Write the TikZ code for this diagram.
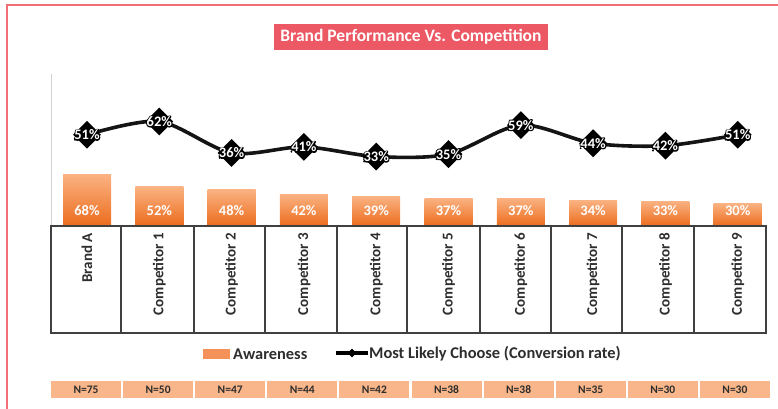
\documentclass[tikz,border=0pt]{standalone}
\usepackage{fontspec}
\setmainfont{Carlito}
\usetikzlibrary{shapes.geometric}
\definecolor{framered}{RGB}{240,112,118}
\definecolor{titlebg}{RGB}{236,88,100}
\definecolor{bartop}{RGB}{250,178,130}
\definecolor{barbot}{RGB}{236,108,28}
\definecolor{nbox}{RGB}{248,182,138}
\definecolor{legbar}{RGB}{244,146,90}
\definecolor{gridc}{RGB}{64,64,64}
\definecolor{txt}{RGB}{45,45,45}
\tikzset{
  catlbl/.style={rotate=90, anchor=east, inner sep=0, text=txt, font=\bfseries\fontsize{15}{16}\selectfont},
  barlbl/.style={inner sep=0, text=white, font=\bfseries\fontsize{14.5}{16}\selectfont},
  linelbl/.style={inner sep=0, font=\bfseries\fontsize{14.5}{16}\selectfont},
  nlbl/.style={fill=nbox, minimum width=70, minimum height=17, inner sep=0, text=txt, font=\bfseries\fontsize{11.5}{13}\selectfont},
  leglbl/.style={anchor=west, inner sep=0, text=txt, font=\bfseries\fontsize{16.4}{18}\selectfont},
  marker/.style={diamond, fill=black, minimum size=28, inner sep=0},
}
\newcommand{\strokeonly}[1]{\special{pdf:literal direct 1 Tr 2 w 1 J 1 j}#1\special{pdf:literal direct 0 Tr}}
\begin{document}
\begin{tikzpicture}[x=1pt,y=-1pt]
\useasboundingbox (0,0) rectangle (778,409);
% frame
\draw[framered, line width=1.3] (7,430) -- (7,5) -- (800,5);
% title
\node[fill=titlebg, text=white, font=\bfseries\fontsize{17.5}{20}\selectfont, minimum width=274, minimum height=26, inner sep=0] (title) at (411,37) {Brand Performance Vs. Competition};
% axis line
\draw[black!18, line width=1] (51,74) -- (51,226);
% bars
\foreach \v [count=\i from 0] in {68,52,48,42,39,37,37,34,33,30} {
  \shade[top color=bartop, bottom color=barbot] ({87+72.3*\i-24},226) rectangle ({87+72.3*\i+24},{226-0.755*\v});
  \node[barlbl] (b\i) at ({87+72.3*\i},211) {\v\%};
}
% table
\draw[gridc, line width=1.4] (51,226) rectangle (766,333);
\foreach \xx in {121,194,265,337,407,480,551,622,694}
  \draw[gridc, line width=1.4] (\xx,226) -- (\xx,333);
\foreach \c [count=\i from 0] in {Brand A,Competitor 1,Competitor 2,Competitor 3,Competitor 4,Competitor 5,Competitor 6,Competitor 7,Competitor 8,Competitor 9}
  \node[catlbl] (c\i) at ({87+72.3*\i},233) {\c};
% line series
\foreach \v [count=\i from 0] in {51,62,36,41,33,35,59,44,42,51}
  \coordinate (p\i) at ({87+72.3*\i},{196.5-1.21*\v});
\draw[black!92, line width=3.6, line join=round] plot[smooth, tension=0.5] coordinates {(p0) (p1) (p2) (p3) (p4) (p5) (p6) (p7) (p8) (p9)};
\foreach \v [count=\i from 0] in {51,62,36,41,33,35,59,44,42,51} {
  \node[marker] (m\i) at (p\i) {};
  \node[linelbl, text=black] (h\i) at (p\i) {\strokeonly{\v\%}};
  \node[linelbl, text=white] (v\i) at (p\i) {\v\%};
}
% legend
\node[fill=legbar, minimum width=27, minimum height=10, inner sep=0] (legA) at (216.5,354) {};
\node[leglbl] (legAt) at (233,354) {Awareness};
\coordinate (legL1) at (336,353);
\coordinate (legL2) at (368,353);
\draw[black, line width=3.2] (legL1) -- (legL2);
\node[diamond, fill=black, minimum size=9, inner sep=0] (legM) at (352,353) {};
\node[leglbl] (legBt) at (369,354) {Most Likely Choose (Conversion rate)};
% N boxes
\foreach \n [count=\i from 0] in {75,50,47,44,42,38,38,35,30,30}
  \node[nlbl] (n\i) at ({86+72.1*\i},389.5) {N=\n};
\end{tikzpicture}
\end{document}
